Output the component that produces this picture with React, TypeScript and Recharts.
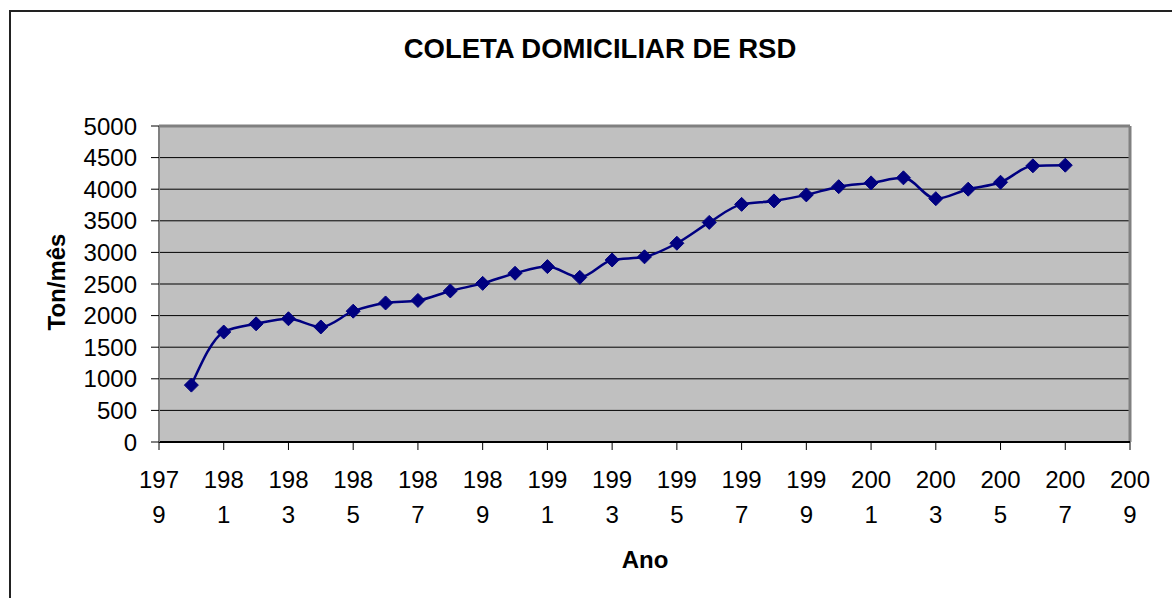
import React from 'react';
import {
  LineChart,
  Line,
  XAxis,
  YAxis,
  CartesianGrid,
  ReferenceLine
} from 'recharts';

const years = [
  1980, 1981, 1982, 1983, 1984, 1985, 1986, 1987, 1988, 1989, 1990, 1991, 1992, 1993,
  1994, 1995, 1996, 1997, 1998, 1999, 2000, 2001, 2002, 2003, 2004, 2005, 2006, 2007
];

const tonsPerMonth = [
  900, 1740, 1870, 1950, 1820, 2070, 2200, 2240, 2390, 2510, 2670, 2775, 2605, 2880,
  2930, 3145, 3475, 3760, 3815, 3910, 4040, 4100, 4180, 3850, 4000, 4110, 4370, 4380
];

const xTicks = [1979, 1981, 1983, 1985, 1987, 1989, 1991, 1993, 1995, 1997, 1999, 2001, 2003, 2005, 2007, 2009];
const yTicks = [0, 500, 1000, 1500, 2000, 2500, 3000, 3500, 4000, 4500, 5000];

const data = years.map((year, i) => ({ year, value: tonsPerMonth[i] }));

const FONT = '"Liberation Sans", Arial, sans-serif';
const NAVY = '#000080';

// Excel wraps the year labels onto two lines ("197" / "9")
const YearTick = (props: any) => {
  const { x, y, payload } = props;
  const label = String(payload.value);
  return (
    <g>
      <text x={x} y={y + 38} textAnchor="middle" fontSize={24} fontFamily={FONT} fill="#000">
        {label.slice(0, 3)}
      </text>
      <text x={x} y={y + 73} textAnchor="middle" fontSize={24} fontFamily={FONT} fill="#000">
        {label.slice(3)}
      </text>
    </g>
  );
};

const Diamond = (props: any) => {
  const { cx, cy } = props;
  if (cx == null || cy == null) return null;
  const r = 7;
  return (
    <polygon
      points={`${cx},${cy - r} ${cx + r},${cy} ${cx},${cy + r} ${cx - r},${cy}`}
      fill={NAVY}
      stroke={NAVY}
    />
  );
};

const App: React.FC = () => {
  return (
    <div style={{ position: 'absolute', left: 0, top: 0, width: 1172, height: 598, overflow: 'hidden', background: '#fff' }}>
      <div
        style={{
          position: 'absolute',
          left: 9,
          top: 10,
          width: 1200,
          height: 650,
          border: '2px solid #222'
        }}
      />
      <div style={{ position: 'absolute', left: 0, top: 0 }}>
        <LineChart
          width={1172}
          height={598}
          data={data}
          margin={{ top: 126, right: 42, left: 99, bottom: 56 }}
        >
          <CartesianGrid
            horizontal={true}
            vertical={false}
            stroke="#000"
            fill="#C0C0C0"
            fillOpacity={1}
          />
          <XAxis
            dataKey="year"
            type="number"
            domain={[1979, 2009]}
            ticks={xTicks}
            interval={0}
            height={100}
            tickSize={8}
            tickMargin={0}
            tick={<YearTick />}
            axisLine={{ stroke: '#000', strokeWidth: 2 }}
            tickLine={{ stroke: '#000' }}
          />
          <YAxis
            type="number"
            domain={[0, 5000]}
            ticks={yTicks}
            interval={0}
            width={60}
            tickSize={8}
            tickMargin={14}
            tick={{ fontSize: 24, fontFamily: FONT, fill: '#000' }}
            axisLine={{ stroke: '#808080', strokeWidth: 2 }}
            tickLine={{ stroke: '#000' }}
          />
          <ReferenceLine y={5000} stroke="#808080" strokeWidth={3} />
          <ReferenceLine x={2009} stroke="#808080" strokeWidth={3} />
          <Line
            type="monotone"
            dataKey="value"
            stroke={NAVY}
            strokeWidth={2.5}
            dot={<Diamond />}
            activeDot={false}
            isAnimationActive={false}
          />
        </LineChart>
      </div>
      <svg
        width={1172}
        height={598}
        style={{ position: 'absolute', left: 0, top: 0, pointerEvents: 'none' }}
      >
        <text x={600} y={58} textAnchor="middle" fontSize={27.5} fontWeight="bold" fontFamily={FONT} fill="#000">
          COLETA DOMICILIAR DE RSD
        </text>
        <text
          x={65}
          y={282}
          textAnchor="middle"
          fontSize={24}
          fontWeight="bold"
          fontFamily={FONT}
          fill="#000"
          transform="rotate(-90, 65, 282)"
        >
          Ton/mês
        </text>
        <text x={645} y={568} textAnchor="middle" fontSize={24} fontWeight="bold" fontFamily={FONT} fill="#000">
          Ano
        </text>
      </svg>
    </div>
  );
};

export default App;
